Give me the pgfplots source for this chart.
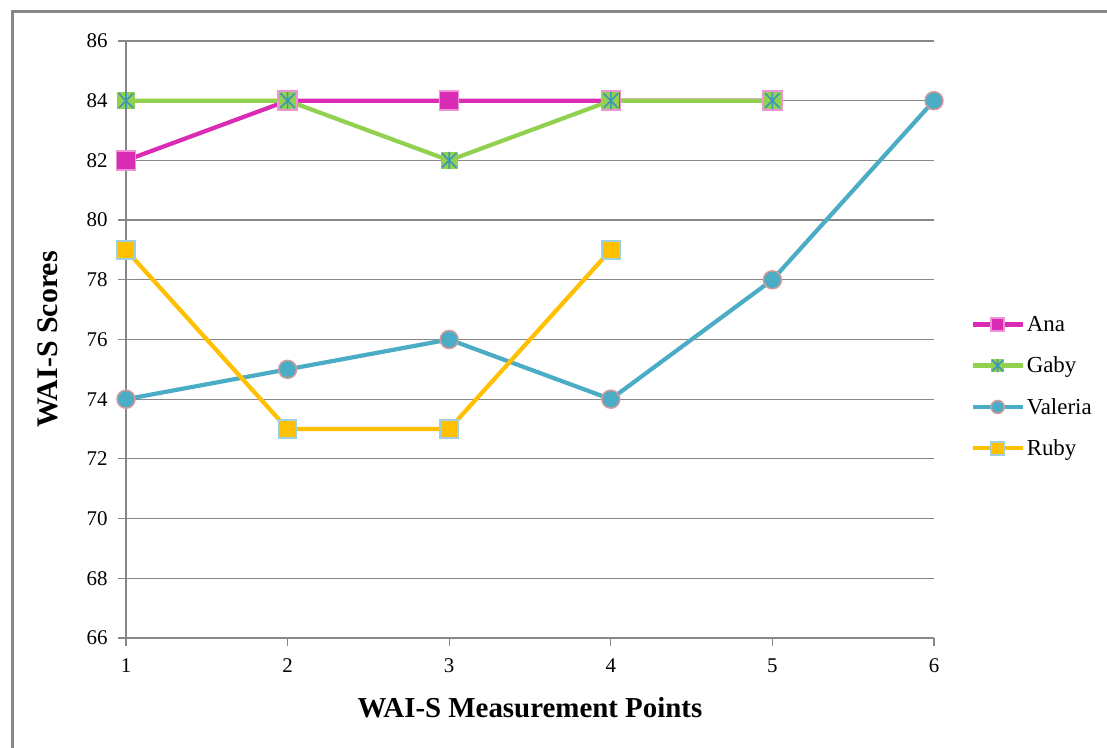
\documentclass[border=0pt]{standalone}
\usepackage{pgfplots}
\pgfplotsset{compat=1.18}
\usepackage{fontspec}
\setmainfont{Liberation Serif}
\definecolor{anaM}{HTML}{D92BB3}
\definecolor{anaB}{HTML}{EE93D4}
\definecolor{gabyG}{HTML}{92D050}
\definecolor{gabyX}{HTML}{3C98B8}
\definecolor{valT}{HTML}{4BACC6}
\definecolor{valB}{HTML}{D49A98}
\definecolor{rubyY}{HTML}{FFC000}
\definecolor{rubyB}{HTML}{9DD0E0}
\definecolor{gridG}{HTML}{878787}
\pgfdeclareplotmark{gabystar}{%
 \pgfpathrectangle{\pgfpoint{-\pgfplotmarksize}{-\pgfplotmarksize}}{\pgfpoint{2\pgfplotmarksize}{2\pgfplotmarksize}}%
 \pgfsetfillcolor{gabyG}\pgfusepathqfill
 \pgfsetstrokecolor{gabyX}\pgfsetlinewidth{1.6bp}%
 \pgfpathmoveto{\pgfpoint{-0.85\pgfplotmarksize}{-0.85\pgfplotmarksize}}\pgfpathlineto{\pgfpoint{0.85\pgfplotmarksize}{0.85\pgfplotmarksize}}%
 \pgfpathmoveto{\pgfpoint{-0.85\pgfplotmarksize}{0.85\pgfplotmarksize}}\pgfpathlineto{\pgfpoint{0.85\pgfplotmarksize}{-0.85\pgfplotmarksize}}%
 \pgfpathmoveto{\pgfpoint{0pt}{-\pgfplotmarksize}}\pgfpathlineto{\pgfpoint{0pt}{\pgfplotmarksize}}%
 \pgfusepathqstroke}
\begin{document}
\begin{tikzpicture}
\path[use as bounding box] (0,0) rectangle (1107bp,748bp);
\fill[white] (0,0) rectangle (1107bp,748bp);
\draw[gridG, line width=3bp] (12bp,-5bp) -- (12bp,736bp) -- (1112bp,736bp);
\begin{axis}[
  at={(126bp,110bp)}, anchor=south west,
  scale only axis, width=808bp, height=597bp,
  xmin=1, xmax=6, ymin=66, ymax=86,
  xtick={1,...,6}, ytick={66,68,...,86},
  axis lines*=left,
  axis line style={gridG, line width=1.2bp, -},
  ymajorgrids, grid style={gridG, line width=1.2bp},
  tick align=outside, major tick length=8bp,
  tick style={gridG, line width=1.2bp},
  /pgf/number format/assume math mode=true,
  ticklabel style={font=\fontsize{21}{24}\selectfont},
  yticklabel style={xshift=-7bp},
  xticklabel style={yshift=-9bp},
  xlabel={\bfseries WAI-S Measurement Points},
  ylabel={\bfseries WAI-S Scores},
  xlabel style={font=\fontsize{29}{34}\selectfont, at={(axis description cs:0.5,-0.117)}, anchor=center},
  ylabel style={font=\fontsize{30}{34}\selectfont, at={(axis description cs:-0.0965,0.5)}, anchor=center},
  legend style={at={(1.045,0.421)}, anchor=west, draw=none, fill=none,
    font=\fontsize{23}{27}\selectfont, row sep=20bp, inner sep=0pt,
    /tikz/every even column/.append style={column sep=3bp}},
  legend cell align=left,
  legend image code/.code={%
    \draw[mark repeat=2,mark phase=2,#1,mark size=6.5bp] plot coordinates {(0bp,0bp) (25bp,0bp) (50bp,0bp)};},
  clip=false,
]
\addplot[anaM, line width=4.2bp, mark=square*, mark size=9.5bp,
  mark options={fill=anaM, draw=anaB, line width=1.5bp}]
  coordinates {(1,82) (2,84) (3,84) (4,84) (5,84)};
\addlegendentry{Ana}
\addplot[gabyG, line width=4.2bp, mark=gabystar, mark size=8.5bp]
  coordinates {(1,84) (2,84) (3,82) (4,84) (5,84)};
\addlegendentry{Gaby}
\addplot[valT, line width=4.2bp, mark=*, mark size=9bp,
  mark options={fill=valT, draw=valB, line width=1.5bp}]
  coordinates {(1,74) (2,75) (3,76) (4,74) (5,78) (6,84)};
\addlegendentry{Valeria}
\addplot[rubyY, line width=4.2bp, mark=square*, mark size=9bp,
  mark options={fill=rubyY, draw=rubyB, line width=1.5bp}]
  coordinates {(1,79) (2,73) (3,73) (4,79)};
\addlegendentry{Ruby}
\end{axis}
\end{tikzpicture}
\end{document}
